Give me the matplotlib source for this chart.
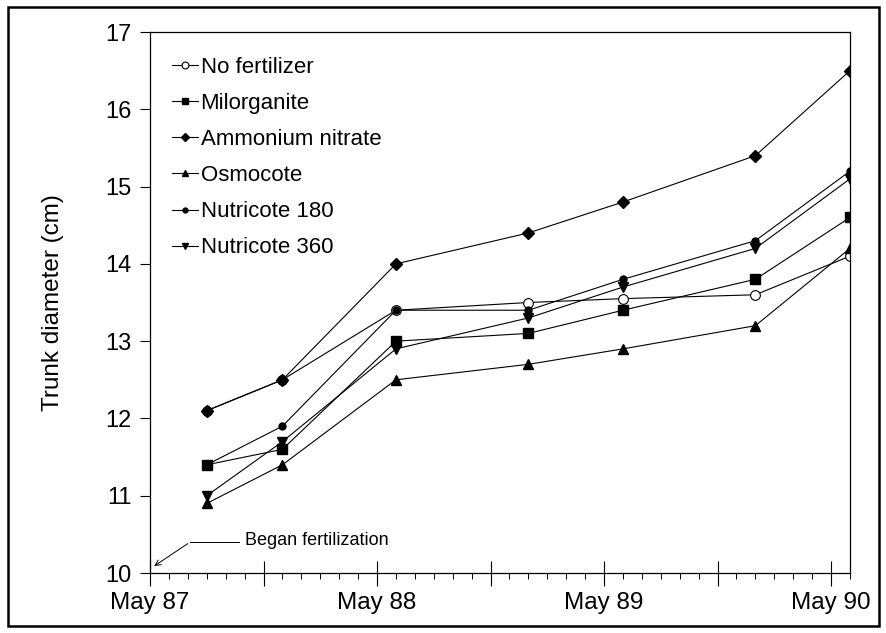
import matplotlib
matplotlib.use("Agg")
import matplotlib.pyplot as plt
from matplotlib.patches import Rectangle
from matplotlib.ticker import MultipleLocator

plt.rcParams['font.family'] = ['Liberation Sans', 'DejaVu Sans']

# months after May 87: Aug 87, Dec 87, Jun 88, Jan 89, Jun 89, Jan 90, Jun 90
months = [3, 7, 13, 20, 25, 32, 37]

no_fert = [12.1, 12.5, 13.4, 13.5, 13.55, 13.6, 14.1]
milorganite = [11.4, 11.6, 13.0, 13.1, 13.4, 13.8, 14.6]
amm_nitrate = [12.1, 12.5, 14.0, 14.4, 14.8, 15.4, 16.5]
osmocote = [10.9, 11.4, 12.5, 12.7, 12.9, 13.2, 14.2]
nutri180 = [11.4, 11.9, 13.4, 13.4, 13.8, 14.3, 15.2]
nutri360 = [11.0, 11.7, 12.9, 13.3, 13.7, 14.2, 15.1]

tick_months = [0, 6, 12, 18, 24, 30, 36]
tick_labels = ["May 87", "", "May 88", "", "May 89", "", "May 90"]

fig = plt.figure(figsize=(8.86, 6.33), dpi=100)
ax = fig.add_axes([150 / 886, 60 / 633, 700 / 886, 541 / 633])

# outer frame
fig.patches.append(Rectangle((8 / 886, 7 / 633), 871 / 886, 619 / 633,
                             transform=fig.transFigure, fill=False,
                             edgecolor="black", linewidth=1.8))

kw = dict(color="black", linewidth=0.8)
ax.plot(months, no_fert, marker="o", markersize=7, markerfacecolor="white",
        markeredgecolor="black", markeredgewidth=0.8, label="No fertilizer", **kw)
ax.plot(months, milorganite, marker="s", markersize=7, label="Milorganite", **kw)
ax.plot(months, amm_nitrate, marker="D", markersize=6, label="Ammonium nitrate", **kw)
ax.plot(months, osmocote, marker="^", markersize=7, label="Osmocote", **kw)
ax.plot(months, nutri180, marker="o", markersize=5, label="Nutricote 180", **kw)
ax.plot(months, nutri360, marker="v", markersize=7, label="Nutricote 360", **kw)

ax.set_xlim(0, 37)
ax.set_ylim(10, 17)
ax.set_xticks(tick_months)
ax.set_xticklabels(tick_labels)
ax.xaxis.set_minor_locator(MultipleLocator(1))
ax.set_yticks(range(10, 18))

ax.tick_params(axis="x", which="major", direction="inout", length=18, width=0.8,
               labelsize=17.5, pad=5)
ax.tick_params(axis="x", which="minor", direction="out", length=4, width=0.7)
ax.tick_params(axis="y", which="major", direction="out", length=7, width=0.8,
               labelsize=17, pad=6)
for s in ax.spines.values():
    s.set_linewidth(0.9)

ax.set_ylabel("Trunk diameter (cm)", fontsize=17.5, labelpad=30)

leg = ax.legend(loc="upper left", bbox_to_anchor=(0.031, 0.954), frameon=False,
                fontsize=16, handlelength=1.2, handletextpad=0.1,
                labelspacing=0.68, borderpad=0, borderaxespad=0, markerscale=0.7)

# annotation for start of fertilization
ax.plot([2.12, 4.71], [10.40, 10.40], color="black", linewidth=0.7)
ax.annotate("", xy=(0.1, 10.07), xytext=(2.12, 10.40),
            arrowprops=dict(arrowstyle="->", color="black", linewidth=0.7))
ax.text(5.03, 10.42, "Began fertilization", fontsize=13, va="center", ha="left")

fig.savefig("out.png", dpi=100)
